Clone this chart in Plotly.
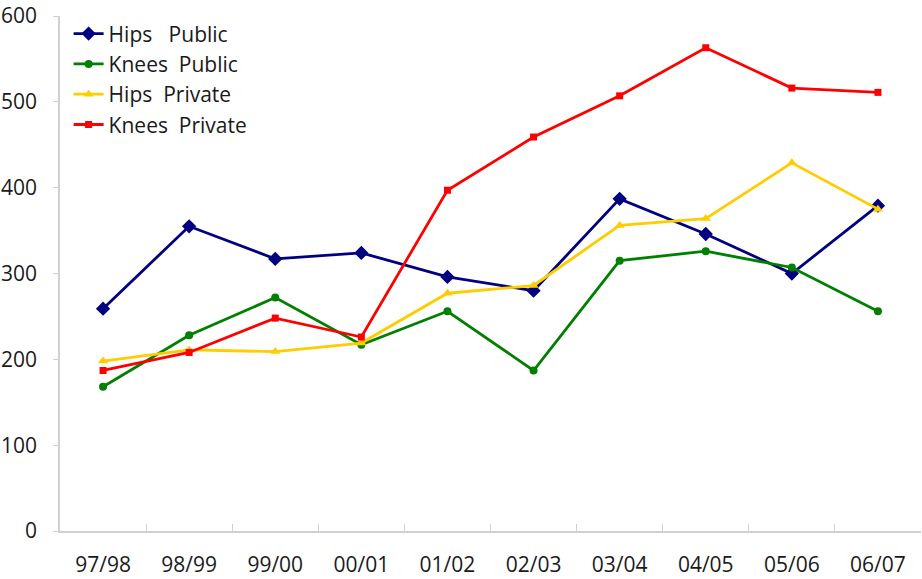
import plotly.graph_objects as go

categories = ["97/98", "98/99", "99/00", "00/01", "01/02", "02/03", "03/04", "04/05", "05/06", "06/07"]
hips_public = [259, 355, 317, 324, 296, 280, 387, 346, 300, 379]
knees_public = [168, 228, 272, 217, 256, 187, 315, 326, 307, 256]
hips_private = [198, 211, 209, 219, 277, 286, 356, 364, 429, 375]
knees_private = [187, 208, 248, 226, 397, 459, 507, 563, 516, 511]
y_ticks = [0, 100, 200, 300, 400, 500, 600]

series = [
    ("Hips\u00a0\u00a0 Public", hips_public, "#000080", "diamond", 11),
    ("Knees\u00a0 Public", knees_public, "#008000", "circle", 8),
    ("Hips\u00a0 Private", hips_private, "#FFCC00", "triangle-up", 9),
    ("Knees\u00a0 Private", knees_private, "#FF0000", "square", 7),
]

fig = go.Figure()
for name, vals, color, sym, size in series:
    fig.add_trace(go.Scatter(
        x=categories, y=vals, name=name, mode="lines+markers",
        line=dict(color=color, width=2.8),
        marker=dict(symbol=sym, size=size, color=color),
    ))

font_family = "Open Sans, Lato, sans-serif"
fig.update_layout(
    width=922, height=579,
    margin=dict(l=56, r=1, t=14, b=47),
    paper_bgcolor="white", plot_bgcolor="white",
    font=dict(family=font_family, size=21, color="#1a1a1a"),
    showlegend=True,
    legend=dict(x=0.01, y=1.005, xanchor="left", yanchor="top",
                bgcolor="rgba(255,255,255,0)", font=dict(size=21),
                tracegroupgap=0, itemwidth=30),
)
fig.update_xaxes(
    type="category", range=[-0.5, 9.5],
    showline=True, linecolor="#d0d0d0", linewidth=1.5,
    showgrid=False, zeroline=False,
    ticks="inside", tickson="boundaries", ticklen=7, tickcolor="#d0d0d0", tickwidth=1,
    tickfont=dict(size=21), ticklabelstandoff=14,
)
fig.update_yaxes(
    range=[0, 600], tickvals=y_ticks, ticklabeloverflow="allow",
    showline=True, linecolor="#d0d0d0", linewidth=1.5,
    showgrid=False, zeroline=False,
    ticks="outside", ticklen=5, tickcolor="#d0d0d0", tickwidth=1,
    tickfont=dict(size=21), ticklabelstandoff=12,
)
fig.write_html("out.html", config={"displayModeBar": False},
               post_script="document.body.style.margin='0';")
